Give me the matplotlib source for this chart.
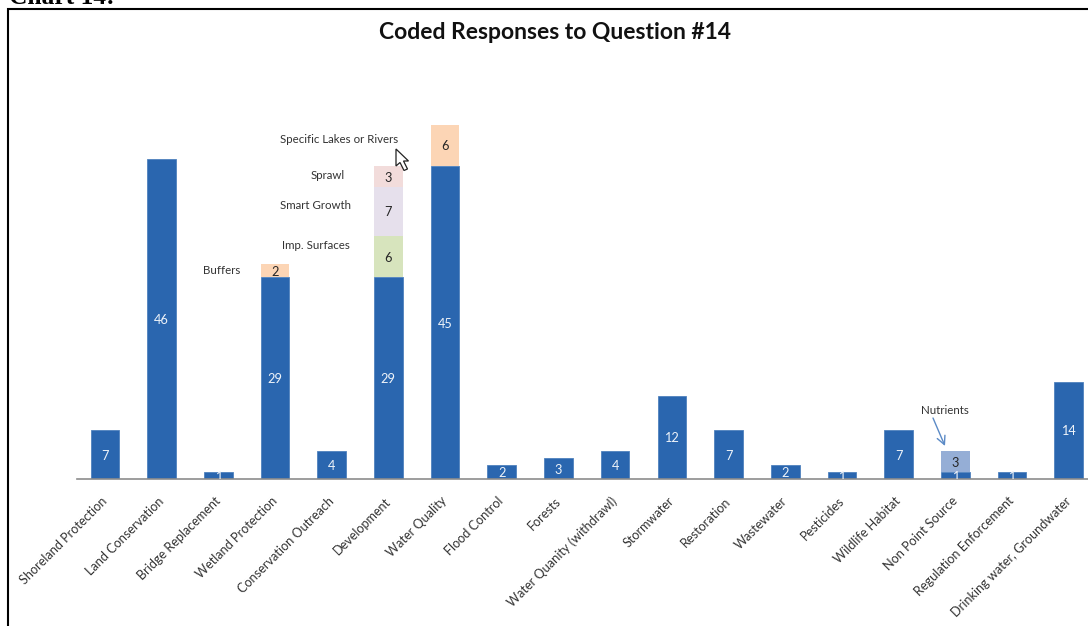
import matplotlib.pyplot as plt
from matplotlib.lines import Line2D
from matplotlib.patches import Polygon
from matplotlib.transforms import Affine2D

# donnees du graphique
categories = ['Shoreland Protection', 'Land Conservation', 'Bridge Replacement', 'Wetland Protection',
              'Conservation Outreach', 'Development', 'Water Quality', 'Flood Control', 'Forests',
              'Water Quanity (withdrawl)', 'Stormwater', 'Restoration', 'Wastewater', 'Pesticides',
              'Wildlife Habitat', 'Non Point Source', 'Regulation Enforcement', 'Drinking water, Groundwater']
base_values = [7, 46, 1, 29, 4, 29, 45, 2, 3, 4, 12, 7, 2, 1, 7, 1, 1, 14]

# sous-categories empilees : (indice de la barre, valeur, couleur)
sub_bars = {
    'Buffers': (3, 2, '#fcd5b5'),
    'Imp. Surfaces': (5, 6, '#d7e4bd'),
    'Smart Growth': (5, 7, '#e6e0ec'),
    'Sprawl': (5, 3, '#f2dcdb'),
    'Specific Lakes or Rivers': (6, 6, '#fcd5b5'),
    'Nutrients': (15, 3, '#95aed6'),
}

BLUE = '#2a66af'
W, H = 1088, 626

plt.rcParams['font.family'] = ['Lato', 'DejaVu Sans']

fig = plt.figure(figsize=(W / 100, H / 100), dpi=100)
ax = fig.add_axes([76.5 / W, (H - 479) / H, (W - 76.5) / W, 380 / H])

# repere en pixels, origine en haut a gauche
px = Affine2D().scale(1, -1).translate(0, H)

# barres de base
x = list(range(len(categories)))
ax.bar(x, base_values, width=0.505, color=BLUE, edgecolor='#4f82bd', linewidth=0.6, zorder=2)
for i, v in enumerate(base_values):
    ax.text(i, v / 2, str(v), color='#eef3f9', fontsize=9.2, ha='center', va='center_baseline',
            clip_on=True, zorder=4)

# segments empiles au dessus
tops = list(base_values)
for name, (i, v, col) in sub_bars.items():
    ax.bar(i, v, bottom=tops[i], width=0.505, color=col, linewidth=0, zorder=2)
    ax.text(i, tops[i] + v / 2, str(v), color='#262626', fontsize=9.2, ha='center', va='center_baseline', zorder=4)
    tops[i] += v

ax.set_xlim(-0.5, (W - 76.5) / 56.7 - 0.5)
ax.set_ylim(0, 380 / 6.95)

ax.set_xticks(x)
ax.set_xticklabels(categories, rotation=45, ha='right', va='center', rotation_mode='anchor',
                   fontsize=9.1, color='#333333')
ax.tick_params(axis='x', length=0, pad=14.5)
ax.set_yticks([])
for s in ['top', 'left', 'right']:
    ax.spines[s].set_visible(False)
ax.spines['bottom'].set_color('#8c8c8c')
ax.spines['bottom'].set_linewidth(1.2)
ax.patch.set_alpha(0)

# titre
fig.text(555, 32.5, 'Coded Responses to Question #14', transform=px, fontsize=16.5, fontweight='bold',
         ha='center', va='center', color='#111111')

# noms des sous-categories
name_pos = {
    'Specific Lakes or Rivers': (339, 139.5),
    'Sprawl': (328, 175.5),
    'Smart Growth': (316, 205.5),
    'Imp. Surfaces': (316, 245.5),
    'Buffers': (222, 270.5),
    'Nutrients': (945, 410.5),
}
for name, (tx, ty) in name_pos.items():
    fig.text(tx, ty, name, transform=px, fontsize=8.3, ha='center', va='center', color='#333333')

# fleche vers Nutrients
ax.annotate('', xy=(945, 446), xytext=(933, 418), xycoords=px, textcoords=px,
            arrowprops=dict(arrowstyle='->', color='#5b8ac6', lw=1, mutation_scale=15, shrinkA=0, shrinkB=0))

# cadre et legende du document
fig.add_artist(Line2D([8, 8, W], [H, 9, 9], transform=px, color='black', lw=1.5, solid_joinstyle='miter'))
fig.text(9, 3.5, 'Chart 14:', transform=px, family='Liberation Serif', fontsize=18.4, fontweight='bold',
         ha='left', va='baseline', color='black')

# curseur de souris
cursor = [(396, 149), (396, 166), (400, 162.5), (404, 170.5), (407.5, 169), (403.5, 161), (408.5, 161)]
fig.add_artist(Polygon(cursor, closed=True, transform=px, facecolor='white', edgecolor='#222222', lw=0.9))

fig.savefig('out.png', dpi=100)
